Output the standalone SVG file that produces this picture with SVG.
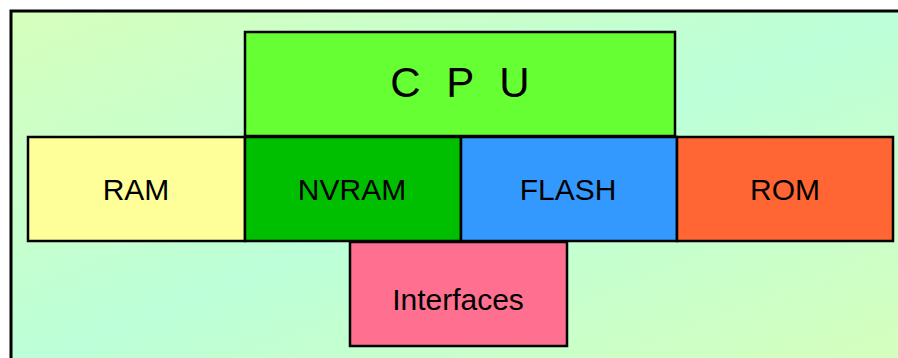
<svg xmlns="http://www.w3.org/2000/svg" width="898" height="358" viewBox="0 0 898 358">
<defs>
<linearGradient id="bg" x1="0" y1="0" x2="1" y2="1">
<stop offset="0" stop-color="#d6ffbc"/>
<stop offset="0.5" stop-color="#bcffd8"/>
<stop offset="1" stop-color="#d6ffbc"/>
</linearGradient>
</defs>
<style>
.box{stroke:#000;stroke-width:2.5}
.lbl{font-family:"Liberation Sans",Arial,sans-serif;font-size:30px;fill:#000;text-anchor:middle}
</style>
<rect x="0" y="0" width="898" height="358" fill="#fff"/>
<rect x="11" y="11" width="900" height="360" fill="url(#bg)" stroke="#000" stroke-width="3"/>
<g id="cpu"><rect class="box" x="245" y="32" width="430" height="104" fill="#66ff33"/><text class="lbl" x="460" y="97" style="font-size:42px;word-spacing:14px">C P U</text></g>
<g id="ram"><rect class="box" x="28" y="137" width="217" height="104" fill="#ffff99"/><text class="lbl" x="136" y="200">RAM</text></g>
<g id="nvram"><rect class="box" x="245" y="137" width="216" height="104" fill="#00bf00"/><text class="lbl" x="352" y="200">NVRAM</text></g>
<g id="flash"><rect class="box" x="461" y="137" width="216" height="104" fill="#3399ff"/><text class="lbl" x="568" y="200">FLASH</text></g>
<g id="rom"><rect class="box" x="677" y="137" width="216" height="104" fill="#ff6633"/><text class="lbl" x="785" y="200">ROM</text></g>
<g id="interfaces"><rect class="box" x="350" y="242" width="217" height="104" fill="#ff7090"/><text class="lbl" x="458" y="310">Interfaces</text></g>
<g id="connectors"/>
</svg>
